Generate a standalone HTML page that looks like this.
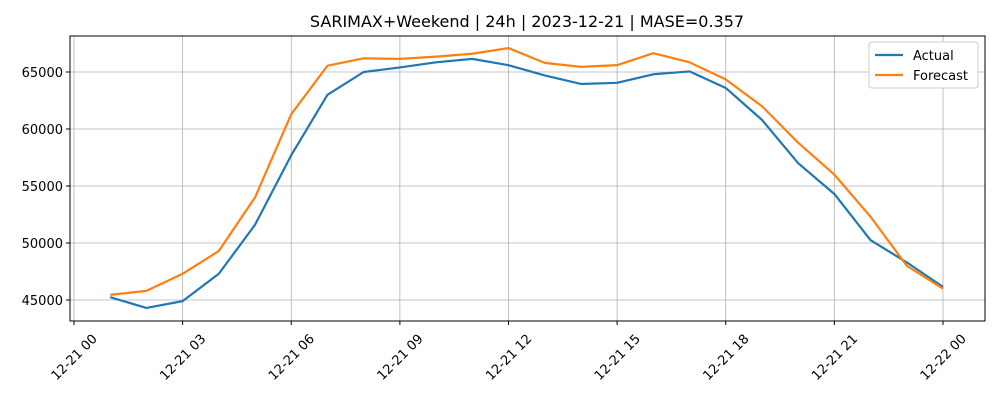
<!DOCTYPE html>
<html><head><meta charset="utf-8"><style>
body{margin:0;background:#fff;font-family:"Liberation Sans","DejaVu Sans",sans-serif;}
svg text{font-family:"DejaVu Sans","Liberation Sans",sans-serif;}
</style></head><body>
<svg id="chart" width="1000" height="400" xmlns="http://www.w3.org/2000/svg">
<text x="527" y="27" font-size="16" text-anchor="middle">SARIMAX+Weekend | 24h | 2023-12-21 | MASE=0.357</text>
<g id="grid"></g><g id="axes"></g><g id="series"></g>
<rect x="70" y="36" width="915" height="285" fill="none" stroke="#000" stroke-width="1"/>
<g>
<rect x="869" y="42" width="109" height="46" rx="3" fill="#fff" stroke="#ccc"/>
<line x1="875" y1="55" x2="903" y2="55" stroke="#1f77b4" stroke-width="2.2"/>
<text x="913" y="60" font-size="13">Actual</text>
<line x1="875" y1="75" x2="903" y2="75" stroke="#ff7f0e" stroke-width="2.2"/>
<text x="913" y="80" font-size="13">Forecast</text>
</g>
</svg>
<script>
const hours=[1,2,3,4,5,6,7,8,9,10,11,12,13,14,15,16,17,18,19,20,21,22,23,24];
const actual=[45250,44300,44900,47300,51600,57700,63000,65000,65400,65850,66150,65600,64700,63950,64050,64800,65050,63600,60800,57000,54300,50250,48300,46150];
const forecast=[45450,45800,47300,49300,54000,61300,65550,66200,66150,66350,66600,67100,65800,65450,65600,66650,65850,64350,62000,58800,56000,52300,48000,46000];
const xTickHours=[0,3,6,9,12,15,18,21,24];
const xTickLabels=["12-21 00","12-21 03","12-21 06","12-21 09","12-21 12","12-21 15","12-21 18","12-21 21","12-22 00"];
const yTicks=[45000,50000,55000,60000,65000];
const NS="http://www.w3.org/2000/svg";
const X=h=>74+h*(943-74)/24;
const Y=v=>300-(v-45000)*228/20000;
function mk(tag,attrs,parent){const e=document.createElementNS(NS,tag);for(const k in attrs)e.setAttribute(k,attrs[k]);parent.appendChild(e);return e;}
const grid=document.getElementById('grid'),axes=document.getElementById('axes'),series=document.getElementById('series');
xTickHours.forEach((h,i)=>{
 const x=X(h);
 const g=mk('line',{x1:x,x2:x,y1:36,y2:321,stroke:'#b0b0b0','stroke-width':0.8},grid);
 
 
 mk('line',{x1:x,x2:x,y1:321,y2:325,stroke:'#000'},axes);
 const cy=357;
 const t=mk('text',{x:x,y:cy+4.5,'font-size':13,'text-anchor':'middle',transform:`rotate(-45 ${x} ${cy})`},axes);
 
 
 t.textContent=xTickLabels[i];
});
yTicks.forEach(v=>{
 const y=Y(v);
 const g=mk('line',{x1:70,x2:985,y1:y,y2:y,stroke:'#b0b0b0','stroke-width':0.8},grid);
 
 
 mk('line',{x1:66,x2:70,y1:y,y2:y,stroke:'#000'},axes);
 const t=mk('text',{x:63,y:y+5,'font-size':13,'text-anchor':'end'},axes);
 
 
 t.textContent=v;
});
function line(vals,color,name){
 const p=mk('polyline',{points:vals.map((v,i)=>X(hours[i])+','+Y(v)).join(' '),fill:'none',stroke:color,'stroke-width':2.2,'stroke-linejoin':'round'},series);
 
 
}
line(actual,'#1f77b4','actual-line');
line(forecast,'#ff7f0e','forecast-line');
</script>
</body></html>
